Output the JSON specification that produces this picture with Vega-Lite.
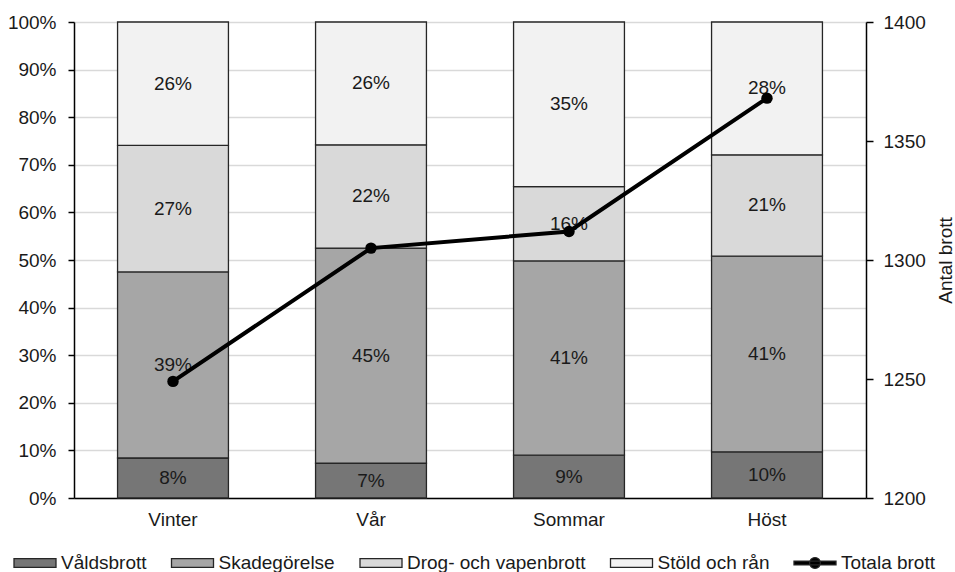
{
  "$schema": "https://vega.github.io/schema/vega-lite/v6.json",
  "width": 792,
  "height": 476,
  "autosize": {"type": "none"},
  "padding": {"left": 74, "top": 22, "right": 89, "bottom": 74},
  "background": "white",
  "config": {
    "font": "Liberation Sans",
    "view": {"stroke": null},
    "axis": {"labelFont": "Liberation Sans", "titleFont": "Liberation Sans", "labelColor": "#1a1a1a", "titleColor": "#1a1a1a"},
    "legend": {"labelFont": "Liberation Sans"}
  },
  "datasets": {
    "andelar": [
      {"arstid": "Vinter", "brottstyp": "Våldsbrott", "ordning": 1, "andel": 0.084},
      {"arstid": "Vinter", "brottstyp": "Skadegörelse", "ordning": 2, "andel": 0.391},
      {"arstid": "Vinter", "brottstyp": "Drog- och vapenbrott", "ordning": 3, "andel": 0.266},
      {"arstid": "Vinter", "brottstyp": "Stöld och rån", "ordning": 4, "andel": 0.259},
      {"arstid": "Vår", "brottstyp": "Våldsbrott", "ordning": 1, "andel": 0.073},
      {"arstid": "Vår", "brottstyp": "Skadegörelse", "ordning": 2, "andel": 0.452},
      {"arstid": "Vår", "brottstyp": "Drog- och vapenbrott", "ordning": 3, "andel": 0.217},
      {"arstid": "Vår", "brottstyp": "Stöld och rån", "ordning": 4, "andel": 0.258},
      {"arstid": "Sommar", "brottstyp": "Våldsbrott", "ordning": 1, "andel": 0.090},
      {"arstid": "Sommar", "brottstyp": "Skadegörelse", "ordning": 2, "andel": 0.408},
      {"arstid": "Sommar", "brottstyp": "Drog- och vapenbrott", "ordning": 3, "andel": 0.156},
      {"arstid": "Sommar", "brottstyp": "Stöld och rån", "ordning": 4, "andel": 0.346},
      {"arstid": "Höst", "brottstyp": "Våldsbrott", "ordning": 1, "andel": 0.097},
      {"arstid": "Höst", "brottstyp": "Skadegörelse", "ordning": 2, "andel": 0.411},
      {"arstid": "Höst", "brottstyp": "Drog- och vapenbrott", "ordning": 3, "andel": 0.213},
      {"arstid": "Höst", "brottstyp": "Stöld och rån", "ordning": 4, "andel": 0.279}
    ],
    "totalt": [
      {"arstid": "Vinter", "brott": 1249},
      {"arstid": "Vår", "brott": 1305},
      {"arstid": "Sommar", "brott": 1312},
      {"arstid": "Höst", "brott": 1368}
    ]
  },
  "layer": [
    {
      "data": {"name": "andelar"},
      "encoding": {
        "x": {
          "field": "arstid",
          "type": "nominal",
          "sort": ["Vinter", "Vår", "Sommar", "Höst"],
          "scale": {"paddingInner": 0.44, "paddingOuter": 0.22},
          "axis": {
            "title": null,
            "ticks": false,
            "labelAngle": 0,
            "labelFontSize": 19,
            "labelPadding": 12,
            "domainColor": "#000000",
            "domainWidth": 1.5
          }
        },
        "y": {
          "field": "andel",
          "type": "quantitative",
          "stack": "zero",
          "scale": {"domain": [0, 1], "nice": false},
          "axis": {
            "orient": "left",
            "title": null,
            "values": [0, 0.1, 0.2, 0.3, 0.4, 0.5, 0.6, 0.7, 0.8, 0.9, 1],
            "format": ".0%",
            "grid": true,
            "gridColor": "#d9d9d9",
            "gridWidth": 1.5,
            "domainColor": "#000000",
            "domainWidth": 1.5,
            "tickColor": "#000000",
            "tickWidth": 1.5,
            "tickSize": 6,
            "labelFontSize": 19,
            "labelPadding": 12
          }
        },
        "order": {"field": "ordning", "type": "quantitative"}
      },
      "layer": [
        {
          "mark": {"type": "bar", "stroke": "#262626", "strokeWidth": 1.3},
          "encoding": {
            "color": {
              "field": "brottstyp",
              "type": "nominal",
              "scale": {
                "domain": ["Våldsbrott", "Skadegörelse", "Drog- och vapenbrott", "Stöld och rån", "Totala brott"],
                "range": ["#767676", "#a6a6a6", "#d9d9d9", "#f2f2f2", "#000000"]
              },
              "legend": {
                "orient": "none",
                "direction": "horizontal",
                "columns": 5,
                "legendX": -61,
                "legendY": 519,
                "padding": 0,
                "title": null,
                "symbolSize": 1764,
                "symbolType": "M-1,-0.21H1V0.21H-1Z",
                "symbolStrokeColor": "#262626",
                "symbolStrokeWidth": 1.3,
                "symbolOpacity": 1,
                "labelFontSize": 19,
                "labelColor": "#1a1a1a",
                "labelOffset": 4,
                "columnPadding": 21.5,
                "labelLimit": 300,
                "encode": {
                  "symbols": {
                    "update": {
                      "shape": {"signal": "datum.value === 'Totala brott' ? 'M-1,-0.09H1V0.09H-1Z M0.26,0A0.26,0.26 0 1,1 -0.26,0A0.26,0.26 0 1,1 0.26,0Z' : 'M-1,-0.21H1V0.21H-1Z'"},
                      "fill": {"scale": "color", "field": "value"},
                      "stroke": {"value": "#262626"},
                      "strokeWidth": {"value": 1.3}
                    }
                  }
                }
              }
            }
          }
        },
        {
          "mark": {"type": "text", "fontSize": 19, "color": "#1a1a1a"},
          "encoding": {
            "y": {"field": "andel", "type": "quantitative", "stack": "zero", "bandPosition": 0.5},
            "detail": {"field": "brottstyp"},
            "text": {"field": "andel", "type": "quantitative", "format": ".0%"}
          }
        }
      ]
    },
    {
      "data": {"name": "totalt"},
      "mark": {
        "type": "line",
        "color": "#000000",
        "strokeWidth": 4,
        "point": {"filled": true, "size": 130, "color": "#000000"}
      },
      "encoding": {
        "x": {"field": "arstid", "type": "nominal", "sort": ["Vinter", "Vår", "Sommar", "Höst"]},
        "y": {
          "field": "brott",
          "type": "quantitative",
          "scale": {"domain": [1200, 1400], "nice": false, "zero": false},
          "axis": {
            "orient": "right",
            "values": [1200, 1250, 1300, 1350, 1400],
            "format": "d",
            "grid": false,
            "title": "Antal brott",
            "titleFontSize": 19,
            "titleFontWeight": "normal",
            "titleAngle": -90,
            "titlePadding": 30,
            "domainColor": "#000000",
            "domainWidth": 1.5,
            "tickColor": "#000000",
            "tickWidth": 1.5,
            "tickSize": 7,
            "labelFontSize": 19,
            "labelPadding": 10
          }
        }
      }
    }
  ],
  "resolve": {"scale": {"y": "independent"}}
}
